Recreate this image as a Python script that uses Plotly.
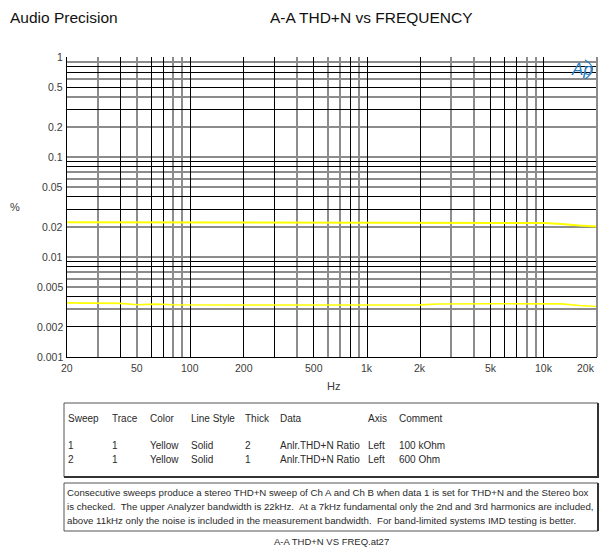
import math
import plotly.graph_objects as go

# ---------------- data ----------------
freq_hz = [20, 25.2, 31.7, 39.9, 50.2, 63.2, 79.6, 100, 126, 159, 200, 252, 317, 399,
           502, 632, 796, 1000, 1260, 1590, 2000, 2520, 3170, 3990, 5020, 6320, 7960,
           10000, 12600, 15900, 20000]
sweep1_thdn = [0.0222, 0.0222, 0.0222, 0.0222, 0.0222, 0.0222, 0.0222, 0.0222, 0.0222,
               0.0222, 0.0222, 0.0222, 0.0222, 0.0222, 0.0222, 0.0222, 0.0222, 0.0222,
               0.0222, 0.0222, 0.0222, 0.0222, 0.0222, 0.0222, 0.0222, 0.0222, 0.0221,
               0.0219, 0.0214, 0.0206, 0.0202]
sweep2_thdn = [0.00348, 0.00348, 0.00348, 0.00344, 0.00333, 0.00338, 0.00333, 0.00331,
               0.00331, 0.00331, 0.00331, 0.00331, 0.00331, 0.00331, 0.00331, 0.00331,
               0.00331, 0.00331, 0.00331, 0.00331, 0.00332, 0.00339, 0.00341, 0.00341,
               0.00341, 0.00341, 0.00341, 0.00341, 0.00340, 0.00327, 0.00320]

x_tick_vals = [20, 50, 100, 200, 500, 1000, 2000, 5000, 10000, 20000]
x_tick_text = ["20", "50", "100", "200", "500", "1k", "2k", "5k", "10k", "20k"]
y_tick_vals = [1, 0.5, 0.2, 0.1, 0.05, 0.02, 0.01, 0.005, 0.002, 0.001]
y_tick_text = ["1", "0.5", "0.2", "0.1", "0.05", "0.02", "0.01", "0.005", "0.002", "0.001"]

x_grid_dark = [40, 60, 70, 100, 200, 300, 500, 800, 1000, 2000, 5000, 6000, 7000, 10000]
x_grid_light = [30, 50, 80, 90, 400, 600, 700, 900, 3000, 4000, 8000, 9000, 20000]
y_grid_dark = [0.8, 0.7, 0.5, 0.3, 0.09, 0.08, 0.04, 0.03, 0.009, 0.008, 0.004, 0.002]
y_grid_light = [1, 0.9, 0.6, 0.4, 0.2, 0.1, 0.07, 0.06, 0.05, 0.02, 0.01, 0.007, 0.006,
                0.005, 0.003]

table_header = ["Sweep", "Trace", "Color", "Line Style", "Thick", "Data", "Axis", "Comment"]
table_rows = [
    ["1", "1", "Yellow", "Solid", "2", "Anlr.THD+N Ratio", "Left", "100 kOhm"],
    ["2", "1", "Yellow", "Solid", "1", "Anlr.THD+N Ratio", "Left", "600 Ohm"],
]
note_lines = [
    "Consecutive sweeps produce a stereo THD+N sweep of Ch A and Ch B when data 1 is set for THD+N and the Stereo box",
    "is checked.\u00a0 The upper Analyzer bandwidth is 22kHz.\u00a0 At a 7kHz fundamental only the 2nd and 3rd harmonics are included,",
    "above 11kHz only the noise is included in the measurement bandwidth.\u00a0 For band-limited systems IMD testing is better.",
]

# ---------------- layout geometry (pixels) ----------------
W, H = 601, 548
PL, PR, PT, PB = 67, 597, 57, 357
FONT = "Liberation Sans, Arial, sans-serif"
TXT = "#2a2a2a"
LOGO = "#2a7fc0"


def px(x):
    return (x - PL) / (PR - PL)


def py(y):
    return (PB - y) / (PB - PT)


fig = go.Figure()
fig.add_trace(go.Scatter(x=freq_hz, y=sweep1_thdn, mode="lines",
                         line=dict(color="#FFFF00", width=2), hoverinfo="x+y"))
fig.add_trace(go.Scatter(x=freq_hz, y=sweep2_thdn, mode="lines",
                         line=dict(color="#FFFF00", width=1.6), hoverinfo="x+y"))

ann = []
# x tick labels
for v, t in zip(x_tick_vals, x_tick_text):
    ann.append(dict(x=math.log10(v), xref="x", y=py(368), yref="paper", text=t,
                    showarrow=False, xanchor="right" if v == 20000 else "center",
                    yanchor="middle", font=dict(family=FONT, size=10.5, color="#3a3a3a")))
# y tick labels
for v, t in zip(y_tick_vals, y_tick_text):
    ann.append(dict(x=px(65), xref="paper", y=math.log10(v), yref="y", text=t,
                    showarrow=False, xanchor="right", yanchor="middle",
                    font=dict(family=FONT, size=10.5, color="#3a3a3a")))
# titles
ann.append(dict(x=px(8), xref="paper", y=py(17), yref="paper", text="Audio Precision",
                showarrow=False, xanchor="left", yanchor="middle",
                font=dict(family=FONT, size=15.5, color="#111")))
ann.append(dict(x=px(371), xref="paper", y=py(17), yref="paper", text="A-A THD+N vs FREQUENCY",
                showarrow=False, xanchor="center", yanchor="middle",
                font=dict(family=FONT, size=15.5, color="#111")))
ann.append(dict(x=px(15), xref="paper", y=py(207), yref="paper", text="%",
                showarrow=False, xanchor="center", yanchor="middle",
                font=dict(family=FONT, size=11, color="#3a3a3a")))
ann.append(dict(x=px(333), xref="paper", y=py(386), yref="paper", text="Hz",
                showarrow=False, xanchor="center", yanchor="middle",
                font=dict(family=FONT, size=11, color="#3a3a3a")))
# logo
ann.append(dict(x=px(582), xref="paper", y=py(69), yref="paper", text="<i>Ap</i>",
                showarrow=False, xanchor="center", yanchor="middle",
                font=dict(family=FONT, size=17, color=LOGO)))
# table
col_x = [66, 110, 148, 189, 243, 278, 366, 397]
for cx, t in zip(col_x, table_header):
    ann.append(dict(x=px(cx), xref="paper", y=py(419), yref="paper", text=t,
                    showarrow=False, xanchor="left", yanchor="middle",
                    font=dict(family=FONT, size=10, color=TXT)))
for ry, row in zip([445, 459], table_rows):
    for cx, t in zip(col_x, row):
        ann.append(dict(x=px(cx), xref="paper", y=py(ry), yref="paper", text=t,
                        showarrow=False, xanchor="left", yanchor="middle",
                        font=dict(family=FONT, size=10, color=TXT)))
for ly, t in zip([492, 506, 520], note_lines):
    ann.append(dict(x=px(65), xref="paper", y=py(ly), yref="paper", text=t,
                    showarrow=False, xanchor="left", yanchor="middle",
                    font=dict(family=FONT, size=9.7, color=TXT)))
ann.append(dict(x=px(331), xref="paper", y=py(541), yref="paper", text="A-A THD+N VS FREQ.at27",
                showarrow=False, xanchor="center", yanchor="middle",
                font=dict(family=FONT, size=9.5, color=TXT)))

shapes = []
# logo arc (right part of a circle around the "p")
shapes.append(dict(type="path", xref="paper", yref="paper",
                   path="M {0} {1} Q {2} {3} {4} {5}".format(
                       px(585), py(60), px(600), py(69), px(585), py(79)),
                   line=dict(color=LOGO, width=1.2)))
# plot frame right
shapes.append(dict(type="line", xref="paper", yref="paper", x0=1, x1=1, y0=0, y1=1,
                   line=dict(color="#8c8c8c", width=2)))
# table box
shapes.append(dict(type="rect", xref="paper", yref="paper",
                   x0=px(64), x1=px(598), y0=py(403), y1=py(477),
                   line=dict(color="#555", width=1)))
shapes.append(dict(type="line", xref="paper", yref="paper",
                   x0=px(64), x1=px(599), y0=py(477), y1=py(477),
                   line=dict(color="#333", width=2)))
shapes.append(dict(type="line", xref="paper", yref="paper",
                   x0=px(598), x1=px(598), y0=py(403), y1=py(477),
                   line=dict(color="#333", width=2)))
# note box
shapes.append(dict(type="rect", xref="paper", yref="paper",
                   x0=px(64), x1=px(598), y0=py(483), y1=py(531),
                   line=dict(color="#555", width=1)))
shapes.append(dict(type="line", xref="paper", yref="paper",
                   x0=px(598), x1=px(598), y0=py(483), y1=py(531),
                   line=dict(color="#333", width=2)))

fig.update_layout(
    width=W, height=H,
    margin=dict(l=PL, r=W - PR, t=PT, b=H - PB, pad=0),
    paper_bgcolor="white", plot_bgcolor="white",
    showlegend=False,
    font=dict(family=FONT, size=11, color="#333"),
    xaxis=dict(type="log", range=[math.log10(20), math.log10(20000)],
               tickmode="array", tickvals=x_grid_dark, showticklabels=False, ticks="",
               showgrid=True, gridcolor="#000", gridwidth=1,
               minor=dict(tickmode="array", tickvals=x_grid_light, showgrid=True,
                          gridcolor="#8c8c8c", gridwidth=2, ticks=""),
               showline=True, linecolor="#000", linewidth=1, zeroline=False,
               fixedrange=True),
    yaxis=dict(type="log", range=[-3, 0],
               tickmode="array", tickvals=y_grid_dark, showticklabels=False, ticks="",
               showgrid=True, gridcolor="#000", gridwidth=1,
               minor=dict(tickmode="array", tickvals=y_grid_light, showgrid=True,
                          gridcolor="#8c8c8c", gridwidth=2, ticks=""),
               showline=True, linecolor="#000", linewidth=1, zeroline=False,
               fixedrange=True),
    annotations=ann,
    shapes=shapes,
)

fig.write_html("out.html", config={"displayModeBar": False},
               post_script="document.body.style.margin='0';document.body.style.overflow='hidden';")
